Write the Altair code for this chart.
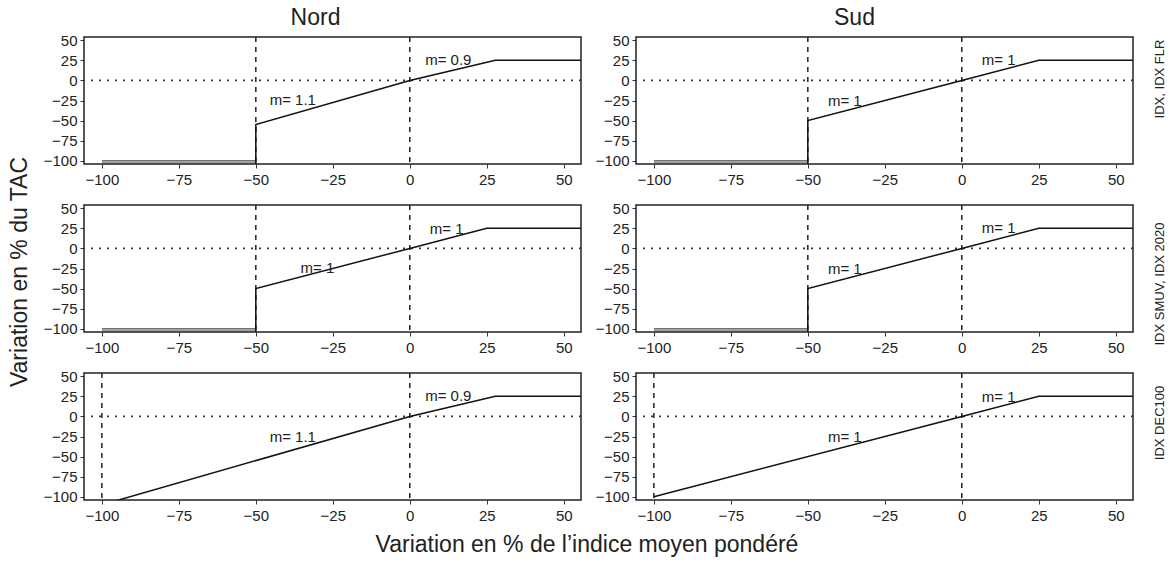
import altair as alt
import pandas as pd

# ---- data ----
regions = ["Nord", "Sud"]
row_labels = ["IDX, IDX FLR", "IDX SMUV, IDX 2020", "IDX DEC100"]
tick_values = [-100, -75, -50, -25, 0, 25, 50]

# main response curves (x = variation of index, y = variation of TAC)
nord_flr_x = [-50, -50, 0, 27.8, 56]
nord_flr_y = [-104, -55, 0, 25, 25]
sud_flr_x = [-50, -50, 0, 25, 56]
sud_flr_y = [-104, -50, 0, 25, 25]
nord_smuv_x = [-50, -50, 0, 25, 56]
nord_smuv_y = [-104, -50, 0, 25, 25]
sud_smuv_x = [-50, -50, 0, 25, 56]
sud_smuv_y = [-104, -50, 0, 25, 25]
nord_dec_x = [-100, 0, 27.8, 56]
nord_dec_y = [-110, 0, 25, 25]
sud_dec_x = [-100, 0, 25, 56]
sud_dec_y = [-100, 0, 25, 25]

# floor (double line) for the first two rows
floor_x = [-100, -50]
floor_levels = [-100, -103]

# dashed reference verticals per row
vlines_rows = [[-50, 0], [-50, 0], [-100, 0]]
hline_y = [0]

# slope labels
lab_nord_flr = (["m= 1.1", "m= 0.9"], [-38, 12.5], [-24, 25])
lab_sud_flr = (["m= 1", "m= 1"], [-38, 12], [-25, 25])
lab_nord_smuv = (["m= 1", "m= 1"], [-30, 12], [-24, 24])
lab_sud_smuv = (["m= 1", "m= 1"], [-38, 12], [-25, 25])
lab_nord_dec = (["m= 1.1", "m= 0.9"], [-38, 12.5], [-25, 25])
lab_sud_dec = (["m= 1", "m= 1"], [-38, 12], [-26, 24])

curves = [
    [(nord_flr_x, nord_flr_y), (sud_flr_x, sud_flr_y)],
    [(nord_smuv_x, nord_smuv_y), (sud_smuv_x, sud_smuv_y)],
    [(nord_dec_x, nord_dec_y), (sud_dec_x, sud_dec_y)],
]
labels = [
    [lab_nord_flr, lab_sud_flr],
    [lab_nord_smuv, lab_sud_smuv],
    [lab_nord_dec, lab_sud_dec],
]
has_floor = [True, True, False]

# ---- layout ----
W, H = 497, 127
FONT = "Liberation Sans"
TXT = "#222222"

xscale = alt.Scale(domain=[-105.8, 55.6], nice=False, zero=False)
yscale = alt.Scale(domain=[-104, 54], nice=False, zero=False)

xaxis = alt.Axis(values=tick_values, title=None, grid=False, domain=False,
                 tickSize=4, tickColor="#333", labelFontSize=15,
                 labelColor=TXT, labelPadding=4, labelFlush=False)
yaxis = alt.Axis(values=tick_values, title=None, grid=False, domain=False,
                 tickSize=4, tickColor="#333", labelFontSize=15,
                 labelColor=TXT, labelPadding=3)

row_label_dy = [42, 79, 50]


def panel(r, c):
    cx, cy = curves[r][c]
    df = pd.DataFrame({"x": cx, "y": cy, "o": list(range(len(cx)))})
    layers = []

    vdf = pd.DataFrame({"x": vlines_rows[r]})
    layers.append(alt.Chart(vdf).mark_rule(color="#222", strokeWidth=1.5,
                                           strokeDash=[5, 5]).encode(
        x=alt.X("x:Q", scale=xscale, axis=xaxis)))
    hdf = pd.DataFrame({"y": hline_y})
    layers.append(alt.Chart(hdf).mark_rule(color="#333", strokeWidth=1.8,
                                           strokeDash=[2, 6]).encode(
        y=alt.Y("y:Q", scale=yscale, axis=yaxis)))

    if has_floor[r]:
        fl = []
        for i, lv in enumerate(floor_levels):
            for xv in floor_x:
                fl.append({"x": xv, "y": lv, "g": i})
        fdf = pd.DataFrame(fl)
        layers.append(alt.Chart(fdf).mark_line(color="#444", strokeWidth=1.3).encode(
            x=alt.X("x:Q", scale=xscale, axis=xaxis),
            y=alt.Y("y:Q", scale=yscale, axis=yaxis),
            detail="g:N"))

    layers.append(alt.Chart(df).mark_line(color="#111", strokeWidth=1.5,
                                          clip=True).encode(
        x=alt.X("x:Q", scale=xscale, axis=xaxis),
        y=alt.Y("y:Q", scale=yscale, axis=yaxis),
        order="o:Q"))

    lt, lx, ly = labels[r][c]
    ldf = pd.DataFrame({"t": lt, "x": lx, "y": ly})
    layers.append(alt.Chart(ldf).mark_text(fontSize=15, font=FONT, color=TXT).encode(
        x=alt.X("x:Q", scale=xscale, axis=xaxis),
        y=alt.Y("y:Q", scale=yscale, axis=yaxis),
        text="t:N"))

    if c == 1:
        rdf = pd.DataFrame({"t": [row_labels[r]]})
        layers.append(alt.Chart(rdf).mark_text(fontSize=13, font=FONT, color=TXT,
                                               angle=270).encode(
            x=alt.value(W + 27), y=alt.value(row_label_dy[r]), text="t:N"))
    if c == 0 and r == 1:
        tdf = pd.DataFrame({"t": ["Variation en % du TAC"]})
        layers.append(alt.Chart(tdf).mark_text(fontSize=23, font=FONT, color=TXT,
                                               angle=270).encode(
            x=alt.value(-64), y=alt.value(67), text="t:N"))
    if c == 0 and r == 2:
        tdf = pd.DataFrame({"t": ["Variation en % de l\u2019indice moyen pondéré"]})
        layers.append(alt.Chart(tdf).mark_text(fontSize=23, font=FONT, color=TXT).encode(
            x=alt.value(503), y=alt.value(172), text="t:N"))

    ch = alt.layer(*layers).properties(width=W, height=H)
    if r == 0:
        ch = ch.properties(title=alt.TitleParams(
            regions[c], fontSize=23, fontWeight="normal", font=FONT, color=TXT,
            dx=-17 if c == 0 else -30, offset=3))
    return ch


panels = [panel(r, c) for r in range(3) for c in range(2)]

chart = alt.concat(*panels, columns=2, spacing={"row": 41, "column": 55},
                   bounds="flush").properties(
    padding={"left": 8, "top": 6, "right": 2, "bottom": 2}
).configure(font=FONT, background="white").configure_view(
    stroke="#222", strokeWidth=1.5)

chart.save("out.html", embed_options={"renderer": "svg", "actions": False})
